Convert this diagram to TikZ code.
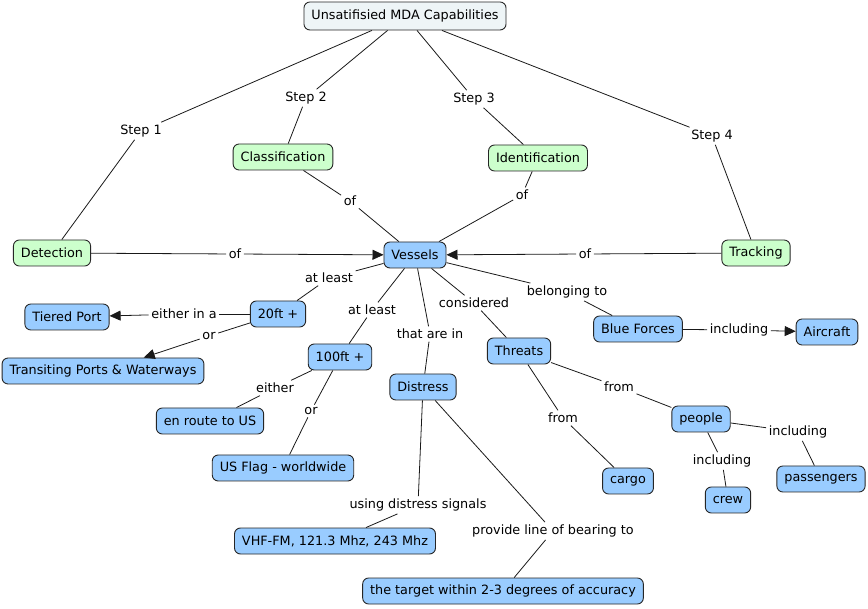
\documentclass[tikz,border=0pt]{standalone}
\usepackage{fontspec}
\setmainfont{DejaVu Sans}
\usetikzlibrary{arrows.meta}
\definecolor{vertclair}{HTML}{CCFFCC}
\definecolor{bleuclair}{HTML}{99CCFF}
\definecolor{grisclair}{HTML}{EEF5F7}
\begin{document}
\begin{tikzpicture}[x=1pt,y=-1pt]
\tikzset{
  concept/.style={draw=black!85, rounded corners=6pt, line width=0.9pt, inner xsep=7.5pt,
    minimum height=26pt, font=\fontsize{12.8}{14}\selectfont},
  vert/.style={concept, fill=vertclair},
  bleu/.style={concept, fill=bleuclair},
  lien/.style={inner sep=2.5pt, font=\fontsize{12.8}{14}\selectfont},
  trait/.style={draw=black!90, line width=0.8pt},
  fleche/.style={trait, -{Triangle[length=11pt,width=10pt]}}
}
\useasboundingbox (0,0) rectangle (868,609);

 % les concepts
  \node[concept, fill=grisclair, minimum height=28pt] (mda) at (405,16) {Unsatifisied MDA Capabilities};
  \node[vert] (classif) at (283,157) {Classification};
  \node[vert] (ident) at (538,158) {Identification};
  \node[vert] (detect) at (52,253) {Detection};
  \node[vert] (track) at (756,253) {Tracking};
  \node[bleu] (vessels) at (415,255) {Vessels};
  \node[bleu] (tiered) at (67,317) {Tiered Port};
  \node[bleu] (vingt) at (278,314) {20ft +};
  \node[bleu] (transit) at (103,371) {Transiting Ports \& Waterways};
  \node[bleu] (cent) at (340,357) {100ft +};
  \node[bleu] (distress) at (423,387) {Distress};
  \node[bleu] (threats) at (519,351) {Threats};
  \node[bleu] (blue) at (638,329) {Blue Forces};
  \node[bleu] (aircraft) at (827,332) {Aircraft};
  \node[bleu] (enroute) at (210,421) {en route to US};
  \node[bleu] (usflag) at (283,468) {US Flag - worldwide};
  \node[bleu] (cargo) at (628,481) {cargo};
  \node[bleu] (people) at (701,419) {people};
  \node[bleu] (passengers) at (821,479) {passengers};
  \node[bleu] (crew) at (728,500) {crew};
  \node[bleu] (vhf) at (335,541) {VHF-FM, 121.3 Mhz, 243 Mhz};
  \node[bleu] (target) at (503,591) {the target within 2-3 degrees of accuracy};

 % les mots de liaison
  \node[lien] (s1) at (141,131) {Step 1};
  \node[lien] (s2) at (306,98) {Step 2};
  \node[lien] (s3) at (474,99) {Step 3};
  \node[lien] (s4) at (712,136) {Step 4};
  \node[lien] (ofc) at (350,201) {of};
  \node[lien] (ofi) at (522,195) {of};
  \node[lien] (ofd) at (235,254) {of};
  \node[lien] (oft) at (585,254) {of};
  \node[lien] (least1) at (329,278) {at least};
  \node[lien] (least2) at (372,310) {at least};
  \node[lien] (arein) at (430,334) {that are in};
  \node[lien] (consid) at (474,303) {considered};
  \node[lien] (belong) at (567,292) {belonging to};
  \node[lien] (eithera) at (184,314) {either in a};
  \node[lien] (or1) at (209,336) {or};
  \node[lien] (either) at (275,388) {either};
  \node[lien] (or2) at (311,411) {or};
  \node[lien] (using) at (418,505) {using distress signals};
  \node[lien] (bearing) at (553,531) {provide line of bearing to};
  \node[lien] (fromp) at (619,387) {from};
  \node[lien] (fromc) at (563,418) {from};
  \node[lien] (incla) at (739,330) {including};
  \node[lien] (inclc) at (722,461) {including};
  \node[lien] (inclp) at (798,432) {including};

 % les liens
  \draw[trait] (mda) -- (s1);  \draw[trait] (s1) -- (detect);
  \draw[trait] (mda) -- (s2);  \draw[trait] (s2) -- (classif);
  \draw[trait] (mda) -- (s3);  \draw[trait] (s3) -- (ident);
  \draw[trait] (mda) -- (s4);  \draw[trait] (s4) -- (track);
  \draw[trait] (classif) -- (ofc);  \draw[trait] (ofc) -- (vessels);
  \draw[trait] (ident) -- (ofi);  \draw[trait] (ofi) -- (vessels);
  \draw[trait] (detect) -- (ofd);  \draw[fleche] (ofd) -- (vessels);
  \draw[trait] (track) -- (oft);  \draw[fleche] (oft) -- (vessels);
  \draw[trait] (vessels) -- (least1);  \draw[trait] (least1) -- (vingt);
  \draw[trait] (vessels) -- (least2);  \draw[trait] (least2) -- (cent);
  \draw[trait] (vessels) -- (arein);  \draw[trait] (arein) -- (distress);
  \draw[trait] (vessels) -- (consid);  \draw[trait] (consid) -- (threats);
  \draw[trait] (vessels) -- (belong);  \draw[trait] (belong) -- (blue);
  \draw[trait] (vingt) -- (eithera);  \draw[fleche] (eithera) -- (tiered);
  \draw[trait] (vingt) -- (or1);  \draw[fleche] (or1) -- (transit);
  \draw[trait] (cent) -- (either);  \draw[trait] (either) -- (enroute);
  \draw[trait] (cent) -- (or2);  \draw[trait] (or2) -- (usflag);
  \draw[trait] (distress) -- (using);  \draw[trait] (using) -- (vhf);
  \draw[trait] (distress) -- (bearing);  \draw[trait] (bearing) -- (target);
  \draw[trait] (threats) -- (fromp);  \draw[trait] (fromp) -- (people);
  \draw[trait] (threats) -- (fromc);  \draw[trait] (fromc) -- (cargo);
  \draw[trait] (blue) -- (incla);  \draw[fleche] (incla) -- (aircraft);
  \draw[trait] (people) -- (inclc);  \draw[trait] (inclc) -- (crew);
  \draw[trait] (people) -- (inclp);  \draw[trait] (inclp) -- (passengers);
\end{tikzpicture}
\end{document}
